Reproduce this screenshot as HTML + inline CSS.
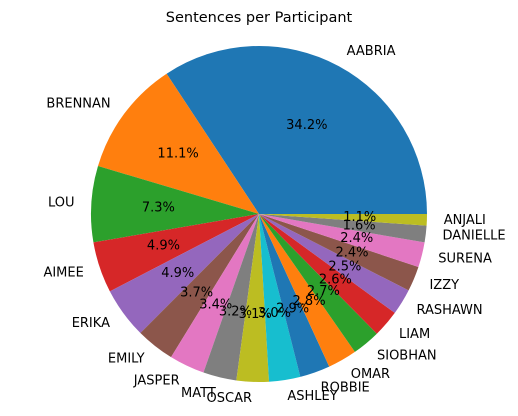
<!DOCTYPE html>
<html><head><meta charset="utf-8"><style>
body{margin:0;background:#fff}
svg{display:block;font-family:"DejaVu Sans","Liberation Sans",sans-serif}
</style></head><body>
<svg id="chart" width="518" height="416" viewBox="0 0 518 416">
<text x="259" y="22" text-anchor="middle" font-size="14.5">Sentences per Participant</text>
<g id="slices"></g><g id="labels"></g>
</svg>
<script>
const categories=["AABRIA","BRENNAN","LOU","AIMEE","ERIKA","EMILY","JASPER","MATT","OSCAR","ASHLEY","ROBBIE","OMAR","SIOBHAN","LIAM","RASHAWN","IZZY","SURENA","DANIELLE","ANJALI"];
const values=[34.2,11.1,7.3,4.9,4.9,3.7,3.4,3.2,3.1,3.0,2.9,2.8,2.7,2.6,2.5,2.4,2.4,1.6,1.1];
const colors=["#1f77b4","#ff7f0e","#2ca02c","#d62728","#9467bd","#8c564b","#e377c2","#7f7f7f","#bcbd22","#17becf"];
const cx=259,cy=214,R=168,NS="http://www.w3.org/2000/svg";
const total=values.reduce((a,b)=>a+b,0);
const gS=document.getElementById('slices'),gL=document.getElementById('labels');
let a0=0;
function pt(a,r){return [cx+r*Math.cos(a),cy-r*Math.sin(a)];}
values.forEach((v,i)=>{
  const frac=v/total,a1=a0+frac*2*Math.PI,mid=(a0+a1)/2;
  const p0=pt(a0,R),p1=pt(a1,R),large=frac>0.5?1:0;
  const path=document.createElementNS(NS,'path');
  path.setAttribute('d',`M${cx},${cy}L${p0[0]},${p0[1]}A${R},${R} 0 ${large} 0 ${p1[0]},${p1[1]}Z`);
  path.setAttribute('fill',colors[i%10]);
  
  
  gS.appendChild(path);
  const lp=pt(mid,R*1.1);
  const t=document.createElementNS(NS,'text');
  t.setAttribute('x',lp[0]);t.setAttribute('y',lp[1]);
  t.setAttribute('text-anchor',lp[0]>cx?'start':'end');
  t.setAttribute('dominant-baseline','central');t.setAttribute('font-size','13');
  
  
  t.textContent=categories[i];gL.appendChild(t);
  const pp=pt(mid,R*0.6);
  const p=document.createElementNS(NS,'text');
  p.setAttribute('x',pp[0]);p.setAttribute('y',pp[1]);
  p.setAttribute('text-anchor','middle');p.setAttribute('dominant-baseline','central');p.setAttribute('font-size','13');
  
  
  p.textContent=v.toFixed(1)+'%';gL.appendChild(p);
  a0=a1;
});
</script>
</body></html>
